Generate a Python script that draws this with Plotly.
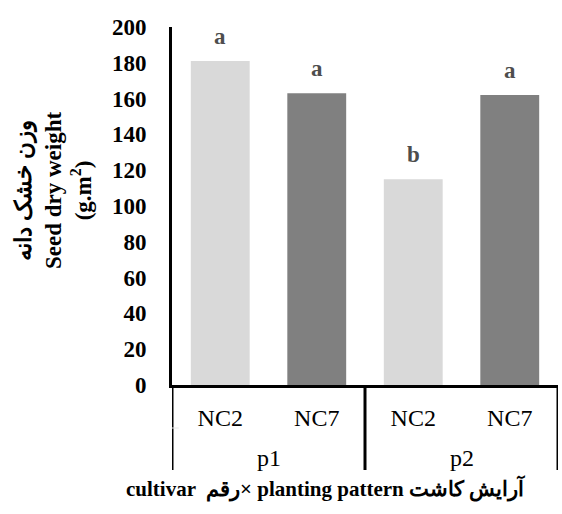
import plotly.graph_objects as go

cultivars = ["NC2", "NC7", "NC2", "NC7"]
patterns = ["p1", "p1", "p2", "p2"]
group_names = ["p1", "p2"]
values = [181, 163, 115, 162]
letters = ["a", "a", "b", "a"]
colors = ["#d9d9d9", "#808080", "#d9d9d9", "#808080"]
y_ticks = [0, 20, 40, 60, 80, 100, 120, 140, 160, 180, 200]

W, H = 562, 514
L, R, T, B = 172, 4, 27, 129
ph = H - T - B

xs = list(range(len(values)))

fig = go.Figure()
fig.add_trace(go.Bar(
    x=xs, y=values, marker=dict(color=colors, line=dict(width=0)),
    width=0.61, showlegend=False, hoverinfo="skip",
))

for i, (v, t) in enumerate(zip(values, letters)):
    fig.add_annotation(x=i, y=v, text=f"<b>{t}</b>", showarrow=False,
                       yanchor="bottom", yshift=10,
                       font=dict(family="Liberation Serif", size=23, color="#4d4d4d"))

def py(px):
    return -(px - (T + ph)) / ph

# dividers in the category area
bottom = py(470)
bounds = [-0.5]
for i in range(1, len(patterns)):
    if patterns[i] != patterns[i - 1]:
        bounds.append(i - 0.5)
bounds.append(len(patterns) - 0.5)
for bx in bounds:
    fig.add_shape(type="line", xref="x", yref="paper", x0=bx, x1=bx,
                  y0=0, y1=bottom, line=dict(color="black", width=3))
# faint separator tick between the two label levels
fig.add_shape(type="line", xref="x", yref="paper", x0=-0.5, x1=-0.43,
              y0=py(428), y1=py(428), line=dict(color="#e6e6e6", width=1))

# group labels
for g in group_names:
    idx = [i for i, p in enumerate(patterns) if p == g]
    fig.add_annotation(x=sum(idx) / len(idx), xref="x", y=py(458), yref="paper",
                       text=g, showarrow=False, yanchor="middle",
                       font=dict(family="Liberation Serif", size=24, color="black"))

# x title
fig.add_annotation(x=(325 - L) / (W - L - R), xref="paper", y=py(489), yref="paper",
                   text="<b>cultivar  رقم× planting pattern آرایش کاشت</b>",
                   showarrow=False, yanchor="middle",
                   font=dict(family="Liberation Serif", size=21, color="black"))

# y title
fig.add_annotation(x=(53 - L) / (W - L - R), xref="paper", y=py(190), yref="paper",
                   text="<b>وزن خشک دانه<br>Seed dry weight<br>(g.m<sup>2</sup>)</b>",
                   showarrow=False, textangle=-90, xanchor="center", yanchor="middle",
                   font=dict(family="Liberation Serif", size=23, color="black"))

fig.update_xaxes(range=[-0.5, len(values) - 0.5], tickvals=xs, ticktext=cultivars,
                 showline=True, linewidth=3, linecolor="black", showgrid=False,
                 zeroline=False, ticks="", ticklabelstandoff=9,
                 tickfont=dict(family="Liberation Serif", size=24, color="black"))
fig.update_yaxes(range=[0, 200], tickvals=y_ticks, showline=True, linewidth=3,
                 linecolor="black", showgrid=False, zeroline=False, ticks="",
                 ticklabelstandoff=18,
                 tickfont=dict(family="Liberation Serif", size=23, color="black", weight="bold"))

fig.update_layout(width=W, height=H, margin=dict(l=L, r=R, t=T, b=B),
                  plot_bgcolor="white", paper_bgcolor="white", bargap=0.39)

fig.write_html("out.html")
